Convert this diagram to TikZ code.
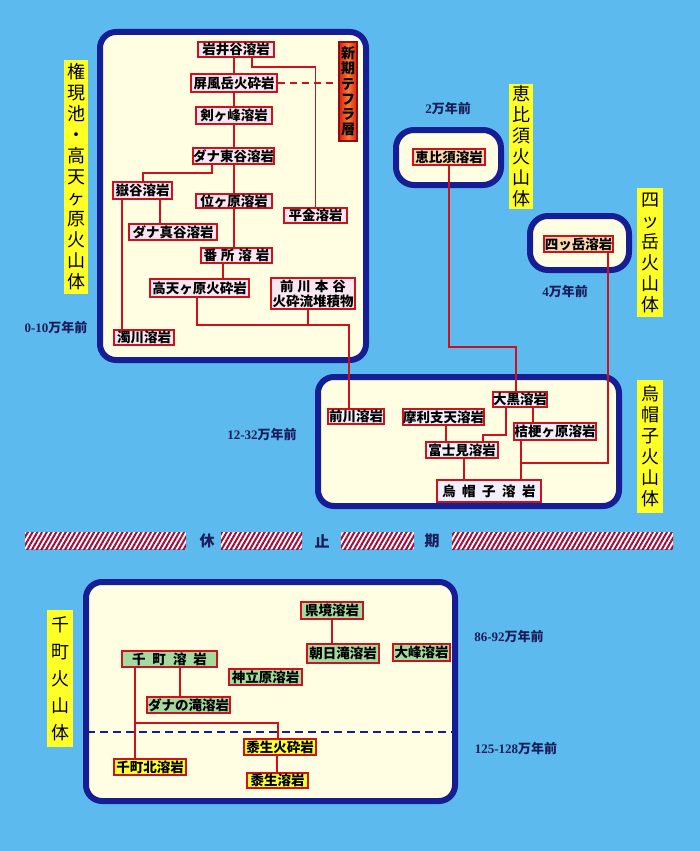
\documentclass[tikz,border=0pt]{standalone}
\usepackage{fontspec}
\setmainfont{Noto Sans CJK JP}
\newfontfamily\dig{Liberation Serif}
\usetikzlibrary{patterns.meta}
\pgfdeclarelayer{back}
\pgfdeclarelayer{links}
\pgfsetlayers{back,links,main}
\definecolor{bgblue}{RGB}{92,186,238}
\definecolor{navy}{RGB}{22,30,150}
\definecolor{cream}{RGB}{255,253,226}
\definecolor{nred}{RGB}{205,18,28}
\definecolor{pinkf}{RGB}{248,230,242}
\definecolor{lavf}{RGB}{242,238,250}
\definecolor{peach}{RGB}{252,220,175}
\definecolor{greenf}{RGB}{164,218,158}
\definecolor{yelf}{RGB}{255,255,50}
\definecolor{labely}{RGB}{255,255,40}
\definecolor{agecol}{RGB}{25,30,90}
\definecolor{crimson}{RGB}{160,12,58}
\definecolor{tephR}{RGB}{215,30,20}
\definecolor{tephO}{RGB}{255,125,40}
\tikzset{
 panel/.style={draw=navy, line width=6pt, fill=cream, rounded corners=16pt},
 lava/.style={draw=nred, line width=2.6pt, fill=pinkf, inner sep=0pt, font=\fontsize{13.5}{15}\selectfont\bfseries},
 lavb/.style={lava, fill=lavf},
 lavp/.style={lava, fill=peach},
 lavg/.style={lava, fill=greenf},
 lavy/.style={lava, fill=yelf},
 sz/.style 2 args={minimum width=#1pt, minimum height=#2pt},
 link/.style={draw=nred, line width=1.8pt},
 vlabel/.style={fill=labely, inner sep=0pt, align=center, font=\fontsize{18}{21}\selectfont},
 age/.style={text=agecol, font=\fontsize{13}{15}\selectfont\bfseries, inner sep=0pt},
 restword/.style={text=agecol, font=\fontsize{15}{17}\selectfont\bfseries, inner sep=0pt},
 hatch/.style={pattern={Lines[angle=60,distance=4.1pt,line width=2pt]}, pattern color=crimson},
}
\begin{document}
\begin{tikzpicture}[x=1pt,y=-1pt]
\begin{pgfonlayer}{back}
\fill[bgblue] (0,0) rectangle (700,851);
% panels
\draw[panel] (100,32) rectangle (366,360);
\draw[panel] (318,377) rectangle (619,506);
\draw[panel,rounded corners=18pt] (396,130) rectangle (501,185);
\draw[panel,rounded corners=18pt] (530,216) rectangle (629,270);
\draw[panel] (86,582) rectangle (455,801);
% rest period band
\foreach \a/\b in {25/186, 221/302, 341/414, 452/673}{
  \fill[white] (\a,532) rectangle (\b,549);
  \fill[hatch] (\a,532) rectangle (\b,549);
}
\end{pgfonlayer}
\useasboundingbox (0,0) rectangle (700,851);

% side labels
\node[vlabel, minimum width=24pt, minimum height=234pt] (lgongen) at (76,177) {権\\現\\池\\・\\高\\天\\ヶ\\原\\火\\山\\体};
\node[vlabel, minimum width=24pt, minimum height=125pt] (lebisu) at (521,146.5) {恵\\比\\須\\火\\山\\体};
\node[vlabel, minimum width=26pt, minimum height=129pt] (lyotsu) at (650,252.5) {四\\ッ\\岳\\火\\山\\体};
\node[vlabel, minimum width=26pt, minimum height=133pt] (leboshi) at (650,446.5) {烏\\帽\\子\\火\\山\\体};
\node[vlabel, minimum width=26pt, minimum height=137pt, font=\fontsize{18}{27}\selectfont] (lsen) at (60,678.5) {千\\町\\火\\山\\体};

% ages
\node[age] (a1) at (56,328) {{\dig 0-10}万年前};
\node[age] (a2) at (448,109) {{\dig 2}万年前};
\node[age] (a3) at (565,292) {{\dig 4}万年前};
\node[age] (a4) at (262,435) {{\dig 12-32}万年前};
\node[age] (a5) at (509,637) {{\dig 86-92}万年前};
\node[age] (a6) at (516,749) {{\dig 125-128}万年前};

\node[restword] (r1) at (207,541) {休};
\node[restword] (r2) at (322,541) {止};
\node[restword] (r3) at (432,541) {期};

% box 1 nodes
\node[lava, sz={76}{15}] (iwai) at (236,49.5) {岩井谷溶岩};
\node[lava, sz={86}{18}] (byobu) at (234,83) {屏風岳火砕岩};
\node[lava, sz={76}{17}] (ken) at (234,115.5) {剣ヶ峰溶岩};
\node[lava, sz={81}{16}] (dh) at (233.5,156) {ダナ東谷溶岩};
\node[lava, sz={59}{17}] (take) at (142.5,190.5) {嶽谷溶岩};
\node[lava, sz={76}{14}] (kurai) at (234,201) {位ヶ原溶岩};
\node[lava, sz={63}{15}] (hira) at (315.5,215.5) {平金溶岩};
\node[lava, sz={88}{16}] (danama) at (173,232) {ダナ真谷溶岩};
\node[lava, sz={71}{15}] (bansho) at (236.5,255.5) {番\hspace{4pt}所\hspace{4pt}溶\hspace{4pt}岩};
\node[lava, sz={99}{18}] (takama) at (199.5,288) {高天ヶ原火砕岩};
\node[lava, sz={84}{31}, align=center] (honya) at (313,293.5) {前\hspace{4pt}川\hspace{4pt}本\hspace{4pt}谷\\火砕流堆積物};
\node[lava, sz={60}{15}] (nigo) at (144,337.5) {濁川溶岩};
\node[draw=nred!70!black, line width=1.5pt, left color=tephR, right color=tephR, middle color=tephO,
      minimum width=18pt, minimum height=99pt, inner sep=0pt, align=center,
      font=\fontsize{14}{15.3}\selectfont\bfseries] (shinki) at (348,91.5) {新\\期\\テ\\フ\\ラ\\層};

% box 2 nodes
\node[lavb, sz={56}{15}] (mae) at (356,416.5) {前川溶岩};
\node[lavb, sz={54}{15}] (daikoku) at (520,399.5) {大黒溶岩};
\node[lavb, sz={81}{16}] (marishi) at (443.5,417) {摩利支天溶岩};
\node[lavb, sz={82}{17}] (kikyo) at (555,431.5) {桔梗ヶ原溶岩};
\node[lavb, sz={72}{16}] (fujimi) at (462,450) {富士見溶岩};
\node[lavb, sz={104}{22}] (eboshi) at (489,491) {烏\hspace{6.5pt}帽\hspace{6.5pt}子\hspace{6.5pt}溶\hspace{6.5pt}岩};

% box 3/4 nodes
\node[lavp, sz={72}{16}] (ebisu) at (449,157) {恵比須溶岩};
\node[lavp, sz={69}{16}] (yotsu) at (578.5,244) {四ッ岳溶岩};

% box 5 nodes
\node[lavg, sz={62}{17}] (kenkyo) at (332,610.5) {県境溶岩};
\node[lavg, sz={72}{19}] (asahi) at (343,653.5) {朝日滝溶岩};
\node[lavg, sz={57}{17}] (omine) at (421.5,652.5) {大峰溶岩};
\node[lavg, sz={95}{16}] (senmachi) at (169.5,659) {千\hspace{7pt}町\hspace{7pt}溶\hspace{7pt}岩};
\node[lavg, sz={73}{16}] (kandachi) at (265.5,677) {神立原溶岩};
\node[lavg, sz={83}{16}] (danataki) at (188.5,705) {ダナの滝溶岩};
\node[lavy, sz={72}{16}] (kibiha) at (280,747) {黍生火砕岩};
\node[lavy, sz={72}{16}] (kita) at (150,767) {千町北溶岩};
\node[lavy, sz={61}{15}] (kibi) at (277.5,780.5) {黍生溶岩};

% connectors
\begin{pgfonlayer}{links}
\draw[link] ([xshift=16pt]iwai.south) -- ++(0,9) -| (hira.north);
\draw[link] (iwai.south -| byobu.north) -- (byobu.north);
\draw[link] (byobu.south) -- (ken.north);
\draw[link] (ken.south) -- (ken.south |- dh.north);
\draw[link] (dh.south -| kurai.north) -- (kurai.north);
\draw[link, dash pattern=on 7pt off 5pt] (byobu.east) -- (byobu.east -| shinki.west);
\draw[link] ([xshift=-21.5pt]dh.south) -- ++(0,8) -| ([xshift=0.5pt]take.north);
\draw[link] ([xshift=17.5pt]take.south) -- ([xshift=17.5pt]take.south |- danama.north);
\draw[link] ([xshift=-20.5pt]take.south) -- ([xshift=-20.5pt]take.south |- nigo.north);
\draw[link] (kurai.south) -- (kurai.south |- bansho.north);
\draw[link] ([xshift=-13.5pt]bansho.south) -- ([xshift=-13.5pt]bansho.south |- takama.north);
\path ([xshift=-2.5pt]takama.south) ++(0,27) coordinate (j1);
\draw[link] ([xshift=-2.5pt]takama.south) -- (j1) -| ([xshift=-7pt]mae.north);
\draw[link] ([xshift=-5pt]honya.south) -- ([xshift=-5pt]honya.south |- j1);
\path (ebisu.south) ++(0,181) coordinate (j2);
\draw[link] (ebisu.south) -- (j2) -| ([xshift=-4pt]daikoku.north);
\draw[link] ([xshift=-14pt]daikoku.south) -- ++(0,27) -| ([xshift=21pt]fujimi.north);
\draw[link] ([xshift=13pt]daikoku.south) -- ([xshift=13pt]daikoku.south |- kikyo.north);
\draw[link] ([xshift=2.5pt]marishi.south) -- ([xshift=2.5pt]marishi.south |- fujimi.north);
\draw[link] ([xshift=2pt]fujimi.south) -- ([xshift=2pt]fujimi.south |- eboshi.north);
\draw[link] ([xshift=-34pt]kikyo.south) -- ([xshift=-34pt]kikyo.south |- eboshi.north);
\path ([xshift=-34pt]kikyo.south) ++(0,22) coordinate (j3);
\draw[link] ([xshift=29.5pt]yotsu.south) |- (j3);
\draw[link] (kenkyo.south) -- (kenkyo.south |- asahi.north);
\draw[link] ([xshift=10.5pt]senmachi.south) -- ([xshift=10.5pt]senmachi.south |- danataki.north);
\draw[link] ([xshift=-34.5pt]senmachi.south) -- ([xshift=-34.5pt]senmachi.south |- kita.north);
\draw[link] ([xshift=-34.5pt]senmachi.south) ++(0,55) -| ([xshift=-2pt]kibiha.north);
\draw[link] ([xshift=-3pt]kibiha.south) -- ([xshift=-3pt]kibiha.south |- kibi.north);
\draw[navy, line width=2.2pt, dash pattern=on 8pt off 5pt] (87,732) -- (455,732);
\end{pgfonlayer}
\end{tikzpicture}
\end{document}
